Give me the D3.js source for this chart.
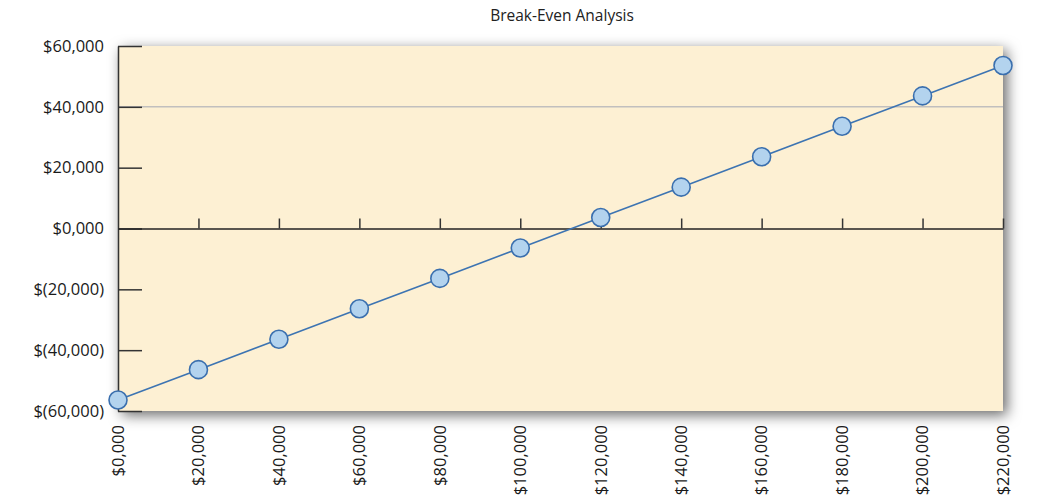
<!DOCTYPE html>
<html>
<head>
<meta charset="utf-8">
<script src="https://cdn.jsdelivr.net/npm/d3@7"></script>
<style>
  body { margin: 0; background: #fff; }
  svg { font-family: "Open Sans", sans-serif; }
</style>
</head>
<body>
<div id="chart"></div>
<script>
// data
var sales = [0, 20000, 40000, 60000, 80000, 100000, 120000, 140000, 160000, 180000, 200000, 220000];
var profit = [-56400, -46400, -36400, -26400, -16400, -6400, 3600, 13600, 23600, 33600, 43600, 53600];
var yTicks = [-60000, -40000, -20000, 0, 20000, 40000, 60000];
var xTicks = [0, 20000, 40000, 60000, 80000, 100000, 120000, 140000, 160000, 180000, 200000, 220000];

var width = 1048, height = 500;
var plotL = 118, plotR = 1003, plotT = 46, plotB = 411;

var svg = d3.select("#chart").append("svg")
    .attr("width", width)
    .attr("height", height);

// shadow filter for the plot box
var defs = svg.append("defs");
var f = defs.append("filter").attr("id", "shadow")
    .attr("x", "-10%").attr("y", "-20%").attr("width", "120%").attr("height", "140%");
f.append("feDropShadow")
    .attr("dx", 4).attr("dy", 4)
    .attr("stdDeviation", 7)
    .attr("flood-color", "#000")
    .attr("flood-opacity", 0.6);

var x = d3.scaleLinear().domain([0, 220000]).range([plotL, plotR]);
var y = d3.scaleLinear().domain([-60000, 60000]).range([plotB, plotT]);

// title
svg.append("text")
    .attr("x", 562)
    .attr("y", 21)
    .attr("text-anchor", "middle")
    .style("font-size", "15.5px")
    .style("fill", "#222")
    .text("Break-Even Analysis");

// background
svg.append("rect")
    .attr("x", plotL)
    .attr("y", plotT)
    .attr("width", plotR - plotL)
    .attr("height", plotB - plotT)
    .attr("fill", "#fdf0d3")
    .attr("filter", "url(#shadow)");

// gridline at 40,000
svg.append("line")
    .attr("x1", plotL).attr("x2", plotR)
    .attr("y1", y(40000)).attr("y2", y(40000))
    .attr("stroke", "#a3a8b3")
    .attr("stroke-width", 1);

// left axis, ticks pointing inward
var yAxis = svg.append("g")
    .attr("transform", `translate(${plotL},0)`)
    .call(d3.axisRight(y)
        .tickValues(yTicks)
        .tickSize(24)
        .tickSizeOuter(0)
        .tickFormat(""));
yAxis.select(".domain").attr("stroke", "#333").attr("stroke-width", 1.5);
yAxis.selectAll(".tick line").attr("stroke", "#333").attr("stroke-width", 1.5);

// y labels
svg.selectAll(".ylab")
    .data(yTicks)
    .enter()
    .append("text")
    .attr("class", "ylab")
    .attr("x", 104)
    .attr("y", d => y(d))
    .attr("dy", "0.35em")
    .attr("text-anchor", "end")
    .style("font-size", "16.5px")
    .style("fill", "#1a1a1a")
    .text(d => {
        var s = d3.format(",")(Math.abs(d));
        if (d == 0) s = "0,000";
        return d < 0 ? "$(" + s + ")" : "$" + s;
    });

// zero line with ticks pointing up
var xAxis = svg.append("g")
    .attr("transform", `translate(0,${y(0)})`)
    .call(d3.axisTop(x)
        .tickValues(xTicks.slice(1))
        .tickSize(10)
        .tickSizeOuter(0)
        .tickFormat(""));
xAxis.select(".domain").attr("stroke", "#222").attr("stroke-width", 1.5);
xAxis.selectAll(".tick line").attr("stroke", "#333").attr("stroke-width", 1.5);

// x labels, rotated
svg.selectAll(".xlab")
    .data(xTicks)
    .enter()
    .append("text")
    .attr("class", "xlab")
    .attr("transform", d => `translate(${x(d)},425) rotate(-90)`)
    .attr("dy", "0.35em")
    .attr("text-anchor", "end")
    .style("font-size", "16.5px")
    .style("fill", "#1a1a1a")
    .text(d => d == 0 ? "$0,000" : "$" + d3.format(",")(d));

// line
var line = d3.line()
    .x((d, i) => x(sales[i]))
    .y(d => y(d));

svg.append("path")
    .datum(profit)
    .attr("fill", "none")
    .attr("stroke", "#3d74b2")
    .attr("stroke-width", 1.6)
    .attr("d", line);

// points
svg.selectAll(".pt")
    .data(profit)
    .enter()
    .append("circle")
    .attr("class", "pt")
    .attr("cx", (d, i) => x(sales[i]))
    .attr("cy", d => y(d))
    .attr("r", 9)
    .attr("fill", "#b3d3ee")
    .attr("stroke", "#3a6fae")
    .attr("stroke-width", 1.6);
</script>
</body>
</html>
